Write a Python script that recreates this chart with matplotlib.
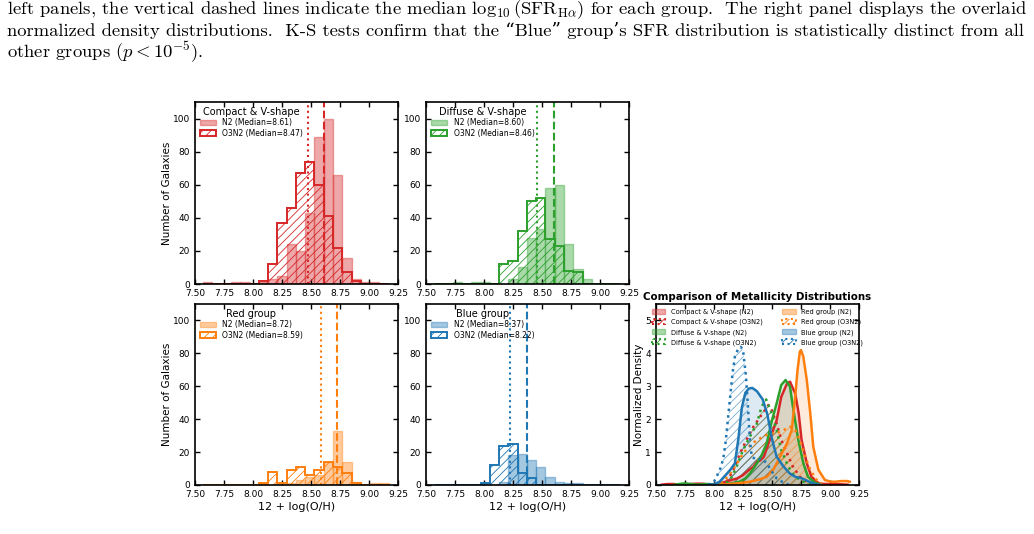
import numpy as np
import matplotlib
matplotlib.use('Agg')
import matplotlib.pyplot as plt
from matplotlib.patches import Patch

plt.rcParams['mathtext.fontset'] = 'cm'
plt.rcParams['hatch.linewidth'] = 0.6
plt.rcParams['axes.linewidth'] = 1.2

# histogram bins (12 + log(O/H))
bin_edges = [7.57, 7.65, 7.73, 7.81, 7.89, 7.97, 8.05, 8.13, 8.21, 8.29, 8.37,
             8.45, 8.53, 8.61, 8.69, 8.77, 8.85, 8.93, 9.01, 9.09, 9.17]

groups = ['Compact & V-shape', 'Diffuse & V-shape', 'Red group', 'Blue group']
colors = ['#d62728', '#2ca02c', '#ff7f0e', '#1f77b4']

counts_n2 = [
    [1, 0, 0, 1, 1, 0, 1, 3, 5, 24, 20, 43, 89, 100, 66, 16, 3, 1, 1, 0],
    [0, 0, 1, 0, 1, 1, 0, 0, 3, 10, 28, 33, 58, 60, 24, 9, 3, 0, 0, 0],
    [0, 0, 0, 0, 0, 0, 1, 0, 0, 1, 3, 5, 6, 14, 33, 14, 2, 0, 1, 1],
    [0, 0, 0, 0, 0, 1, 0, 2, 18, 19, 15, 11, 5, 2, 1, 1, 0, 0, 0, 0],
]
counts_o3n2 = [
    [0, 0, 0, 0, 0, 0, 2, 12, 37, 46, 67, 74, 60, 41, 22, 7, 2, 0, 0, 0],
    [0, 0, 0, 0, 0, 0, 0, 12, 14, 32, 50, 52, 27, 23, 8, 7, 0, 0, 0, 0],
    [0, 0, 0, 0, 0, 0, 1, 8, 1, 9, 11, 6, 9, 14, 11, 7, 1, 0, 0, 0],
    [0, 0, 0, 0, 0, 1, 12, 24, 25, 7, 4, 0, 0, 0, 0, 0, 0, 0, 0, 0],
]
median_n2 = [8.61, 8.60, 8.72, 8.37]
median_o3n2 = [8.47, 8.46, 8.59, 8.22]

# density curves
kde_n2_x = [
    [7.55, 7.60, 7.65, 7.70, 7.75, 7.80, 7.85, 7.90, 7.95, 8.00, 8.05, 8.10, 8.15, 8.20, 8.25,
     8.30, 8.34, 8.37, 8.40, 8.43, 8.48, 8.54, 8.58, 8.63, 8.655, 8.70, 8.73, 8.755, 8.80,
     8.84, 8.90, 8.95, 9.00, 9.05, 9.10, 9.15],
    [7.65, 7.70, 7.75, 7.80, 7.85, 7.90, 7.95, 8.00, 8.05, 8.10, 8.15, 8.22, 8.27, 8.31, 8.34,
     8.37, 8.41, 8.455, 8.50, 8.54, 8.58, 8.617, 8.655, 8.68, 8.727, 8.77, 8.81, 8.87, 8.92],
    [8.00, 8.10, 8.20, 8.31, 8.40, 8.455, 8.51, 8.57, 8.63, 8.67, 8.70, 8.72, 8.74, 8.75, 8.77,
     8.80, 8.83, 8.856, 8.90, 8.957, 9.01, 9.05, 9.10, 9.15, 9.17],
    [7.95, 8.00, 8.05, 8.10, 8.14, 8.18, 8.21, 8.24, 8.27, 8.30, 8.33, 8.37, 8.42, 8.46, 8.50,
     8.54, 8.60, 8.65, 8.70, 8.76, 8.82, 8.88, 8.92],
]
kde_n2_y = [
    [0.01, 0.03, 0.03, 0.01, 0.01, 0.03, 0.04, 0.04, 0.02, 0.02, 0.05, 0.1, 0.15, 0.2, 0.3,
     0.45, 0.56, 0.7, 0.75, 0.86, 1.37, 1.97, 2.68, 3.09, 3.14, 2.78, 2.18, 1.37, 0.66,
     0.25, 0.05, 0.03, 0.03, 0.03, 0.02, 0.01],
    [0.0, 0.03, 0.05, 0.03, 0.01, 0.02, 0.03, 0.02, 0.01, 0.02, 0.05, 0.1, 0.2, 0.35, 0.5,
     0.66, 0.9, 1.27, 1.97, 2.48, 3.04, 3.19, 2.99, 2.38, 1.37, 0.66, 0.25, 0.07, 0.01],
    [0.0, 0.02, 0.05, 0.1, 0.18, 0.25, 0.46, 0.86, 1.27, 1.67, 2.68, 3.49, 4.05, 4.1, 3.9,
     3.19, 2.18, 1.16, 0.46, 0.15, 0.1, 0.1, 0.12, 0.12, 0.1],
    [0.0, 0.02, 0.1, 0.3, 0.46, 0.66, 1.4, 2.35, 2.8, 2.93, 2.95, 2.85, 2.6, 2.15, 1.4,
     0.86, 0.56, 0.36, 0.25, 0.2, 0.1, 0.02, 0.0],
]
kde_o3n2_x = [
    [8.00, 8.05, 8.11, 8.167, 8.224, 8.28, 8.34, 8.40, 8.44, 8.468, 8.497, 8.54, 8.58, 8.63,
     8.68, 8.74, 8.80, 8.85],
    [8.05, 8.10, 8.14, 8.195, 8.25, 8.31, 8.37, 8.41, 8.45, 8.497, 8.54, 8.58, 8.64, 8.70,
     8.77, 8.83],
    [8.00, 8.08, 8.14, 8.20, 8.25, 8.31, 8.37, 8.425, 8.48, 8.54, 8.60, 8.655, 8.70, 8.74,
     8.785, 8.83, 8.885, 8.93],
    [7.95, 8.00, 8.05, 8.08, 8.10, 8.12, 8.14, 8.16, 8.18, 8.21, 8.23, 8.25, 8.276, 8.296,
     8.31, 8.325, 8.37, 8.41, 8.455, 8.50, 8.54, 8.60, 8.65],
]
kde_o3n2_y = [
    [0.0, 0.03, 0.1, 0.46, 0.96, 1.37, 1.77, 2.08, 2.28, 2.43, 2.28, 1.87, 1.37, 0.96,
     0.56, 0.25, 0.1, 0.02],
    [0.0, 0.05, 0.15, 0.56, 1.06, 1.47, 1.87, 2.38, 2.6, 2.18, 1.67, 1.06, 0.56, 0.25,
     0.1, 0.02],
    [0.02, 0.1, 0.35, 0.66, 0.96, 1.2, 1.37, 1.47, 1.57, 1.57, 1.67, 1.77, 1.67, 1.37,
     0.86, 0.46, 0.15, 0.03],
    [0.0, 0.1, 0.45, 0.8, 1.3, 2.0, 2.7, 3.4, 3.9, 4.15, 4.2, 4.1, 3.3, 2.18,
     1.37, 0.86, 0.76, 0.81, 0.66, 0.4, 0.2, 0.07, 0.0],
]

xticks = [7.50, 7.75, 8.00, 8.25, 8.50, 8.75, 9.00, 9.25]

W, H = 1034, 534
fig = plt.figure(figsize=(W / 100, H / 100), dpi=100)


def rect(x0, y0, x1, y1):
    return [x0 / W, 1 - y1 / H, (x1 - x0) / W, (y1 - y0) / H]


def style_axes(ax):
    ax.tick_params(direction='in', top=True, right=True, labelsize=6.5, length=3.5, width=1)
    ax.set_xlim(7.5, 9.25)
    ax.set_xticks(xticks)
    ax.set_xticklabels(['%.2f' % t for t in xticks])


# caption text from the paper
cap_font = ['cmr10', 'DejaVu Serif']
fig.text(7 / W, 1 - 14 / H,
         r'left panels, the vertical dashed lines indicate the median $\log_{10}(\mathrm{SFR}_{\mathrm{H}\alpha})$'
         ' for each group.  The right panel displays the overlaid',
         fontsize=13.4, family=cap_font, va='baseline')
fig.text(7 / W, 1 - 36 / H,
         'normalized density distributions.  K-S tests confirm that the \u201cBlue\u201d group\u2019s SFR '
         'distribution is statistically distinct from all',
         fontsize=13.4, family=cap_font, va='baseline')
fig.text(7 / W, 1 - 58 / H, r'other groups ($p < 10^{-5}$).',
         fontsize=13.4, family=cap_font, va='baseline')

hist_rects = [rect(195, 102, 398, 284), rect(426, 102, 629, 284),
              rect(195, 304, 398, 485), rect(426, 304, 629, 485)]

centers = [(bin_edges[i] + bin_edges[i + 1]) / 2 for i in range(len(bin_edges) - 1)]

for i in range(4):
    ax = fig.add_axes(hist_rects[i])
    c = colors[i]
    ax.hist(centers, bins=bin_edges, weights=counts_n2[i], histtype='bar',
            color=c, alpha=0.4, edgecolor=c, linewidth=1.0,
            label='N2 (Median=%.2f)' % median_n2[i])
    ax.hist(centers, bins=bin_edges, weights=counts_o3n2[i], histtype='step',
            color=c, linewidth=1.4, hatch='////', fill=False,
            label='O3N2 (Median=%.2f)' % median_o3n2[i])
    ax.axvline(median_n2[i], color=c, linestyle='--', linewidth=1.5)
    ax.axvline(median_o3n2[i], color=c, linestyle=':', linewidth=1.5)
    ax.set_ylim(0, 110)
    ax.set_yticks([0, 20, 40, 60, 80, 100])
    style_axes(ax)
    ax.legend(loc='upper left', title=groups[i], fontsize=5.5, title_fontsize=7,
              frameon=False, borderaxespad=0.2, handlelength=2.2, labelspacing=0.2)
    if i % 2 == 0:
        ax.set_ylabel('Number of Galaxies', fontsize=7.5, labelpad=1)
    if i >= 2:
        ax.set_xlabel('12 + log(O/H)', fontsize=8, labelpad=2)

# right panel: overlaid densities
ax = fig.add_axes(rect(656, 304, 859, 485))
handles = []
for i in range(4):
    c = colors[i]
    ax.fill_between(kde_n2_x[i], kde_n2_y[i], color=c, alpha=0.15, linewidth=0)
    ax.plot(kde_n2_x[i], kde_n2_y[i], color=c, linewidth=1.8)
    ax.fill_between(kde_o3n2_x[i], kde_o3n2_y[i], facecolor='none', edgecolor=c,
                    alpha=0.6, hatch='////', linewidth=0)
    ax.plot(kde_o3n2_x[i], kde_o3n2_y[i], color=c, linewidth=1.8, linestyle=':')
    handles.append(Patch(facecolor=c, alpha=0.4, edgecolor=c, linewidth=1,
                         label='%s (N2)' % groups[i]))
    handles.append(Patch(facecolor='none', edgecolor=c, hatch='////', linestyle=':',
                         linewidth=1.5, label='%s (O3N2)' % groups[i]))

ax.set_ylim(0, 5.5)
ax.set_yticks([0, 1, 2, 3, 4, 5])
style_axes(ax)
ax.set_xlabel('12 + log(O/H)', fontsize=8, labelpad=2)
ax.set_ylabel('Normalized Density', fontsize=7.5, labelpad=1)
ax.set_title('Comparison of Metallicity Distributions', fontsize=7.4, fontweight='bold', pad=3)
ax.legend(handles=handles, loc='upper center', ncol=2, fontsize=4.8, frameon=False,
          borderaxespad=0.3, columnspacing=3.0, handlelength=2.0, labelspacing=0.55)

fig.savefig('out.png', dpi=100)
